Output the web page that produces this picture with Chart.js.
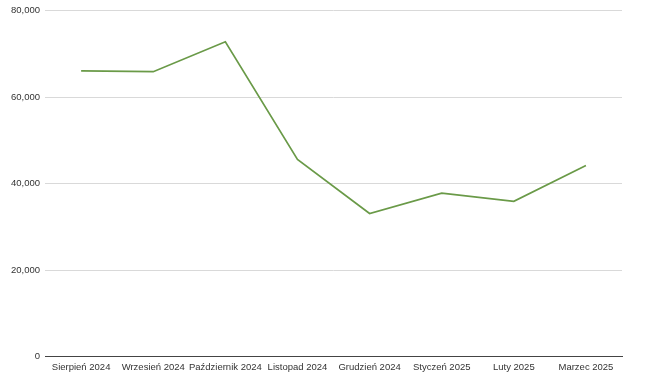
<!DOCTYPE html>
<html>
<head>
<meta charset="utf-8">
<script src="https://cdn.jsdelivr.net/npm/chart.js@4"></script>
<style>
  html, body { margin: 0; padding: 0; background: #fff; }
  #wrap { width: 649px; height: 380px; }
</style>
</head>
<body>
<div id="wrap"><canvas id="lineChart" width="649" height="380"></canvas></div>
<script>
// months (Polish) and values
const months = ["Sierpień 2024", "Wrzesień 2024", "Październik 2024", "Listopad 2024",
                "Grudzień 2024", "Styczeń 2025", "Luty 2025", "Marzec 2025"];
const values = [66100, 65900, 72800, 45600, 33100, 37800, 35900, 44200];
const yTicks = [0, 20000, 40000, 60000, 80000];

const ctx = document.getElementById('lineChart').getContext('2d');

const lineChart = new Chart(ctx, {
    type: 'line',
    data: {
        labels: months,
        datasets: [{
            data: values,
            borderColor: '#6a9a48',
            borderWidth: 1.7,
            pointRadius: 0,
            fill: false,
            tension: 0
        }]
    },
    options: {
        responsive: false,
        animation: false,
        layout: { padding: { left: 6, right: 27, top: 10, bottom: 2 } },
        plugins: {
            legend: { display: false },
            tooltip: { enabled: false }
        },
        scales: {
            x: {
                offset: true,
                grid: { display: false, drawTicks: false },
                border: { color: '#444', width: 1 },
                ticks: {
                    color: '#333',
                    padding: 5,
                    maxRotation: 0,
                    autoSkip: false,
                    font: { family: 'Liberation Sans, Arial', size: 9.5 }
                }
            },
            y: {
                min: 0,
                max: 80000,
                afterBuildTicks: axis => { axis.ticks = yTicks.map(v => ({ value: v })); },
                grid: { color: '#d9d9d9', drawTicks: false },
                border: { display: false },
                ticks: {
                    color: '#333',
                    padding: 5,
                    font: { family: 'Liberation Sans, Arial', size: 9.5 },
                    callback: v => v.toLocaleString('en-US')
                }
            }
        }
    }
});
</script>
</body>
</html>
